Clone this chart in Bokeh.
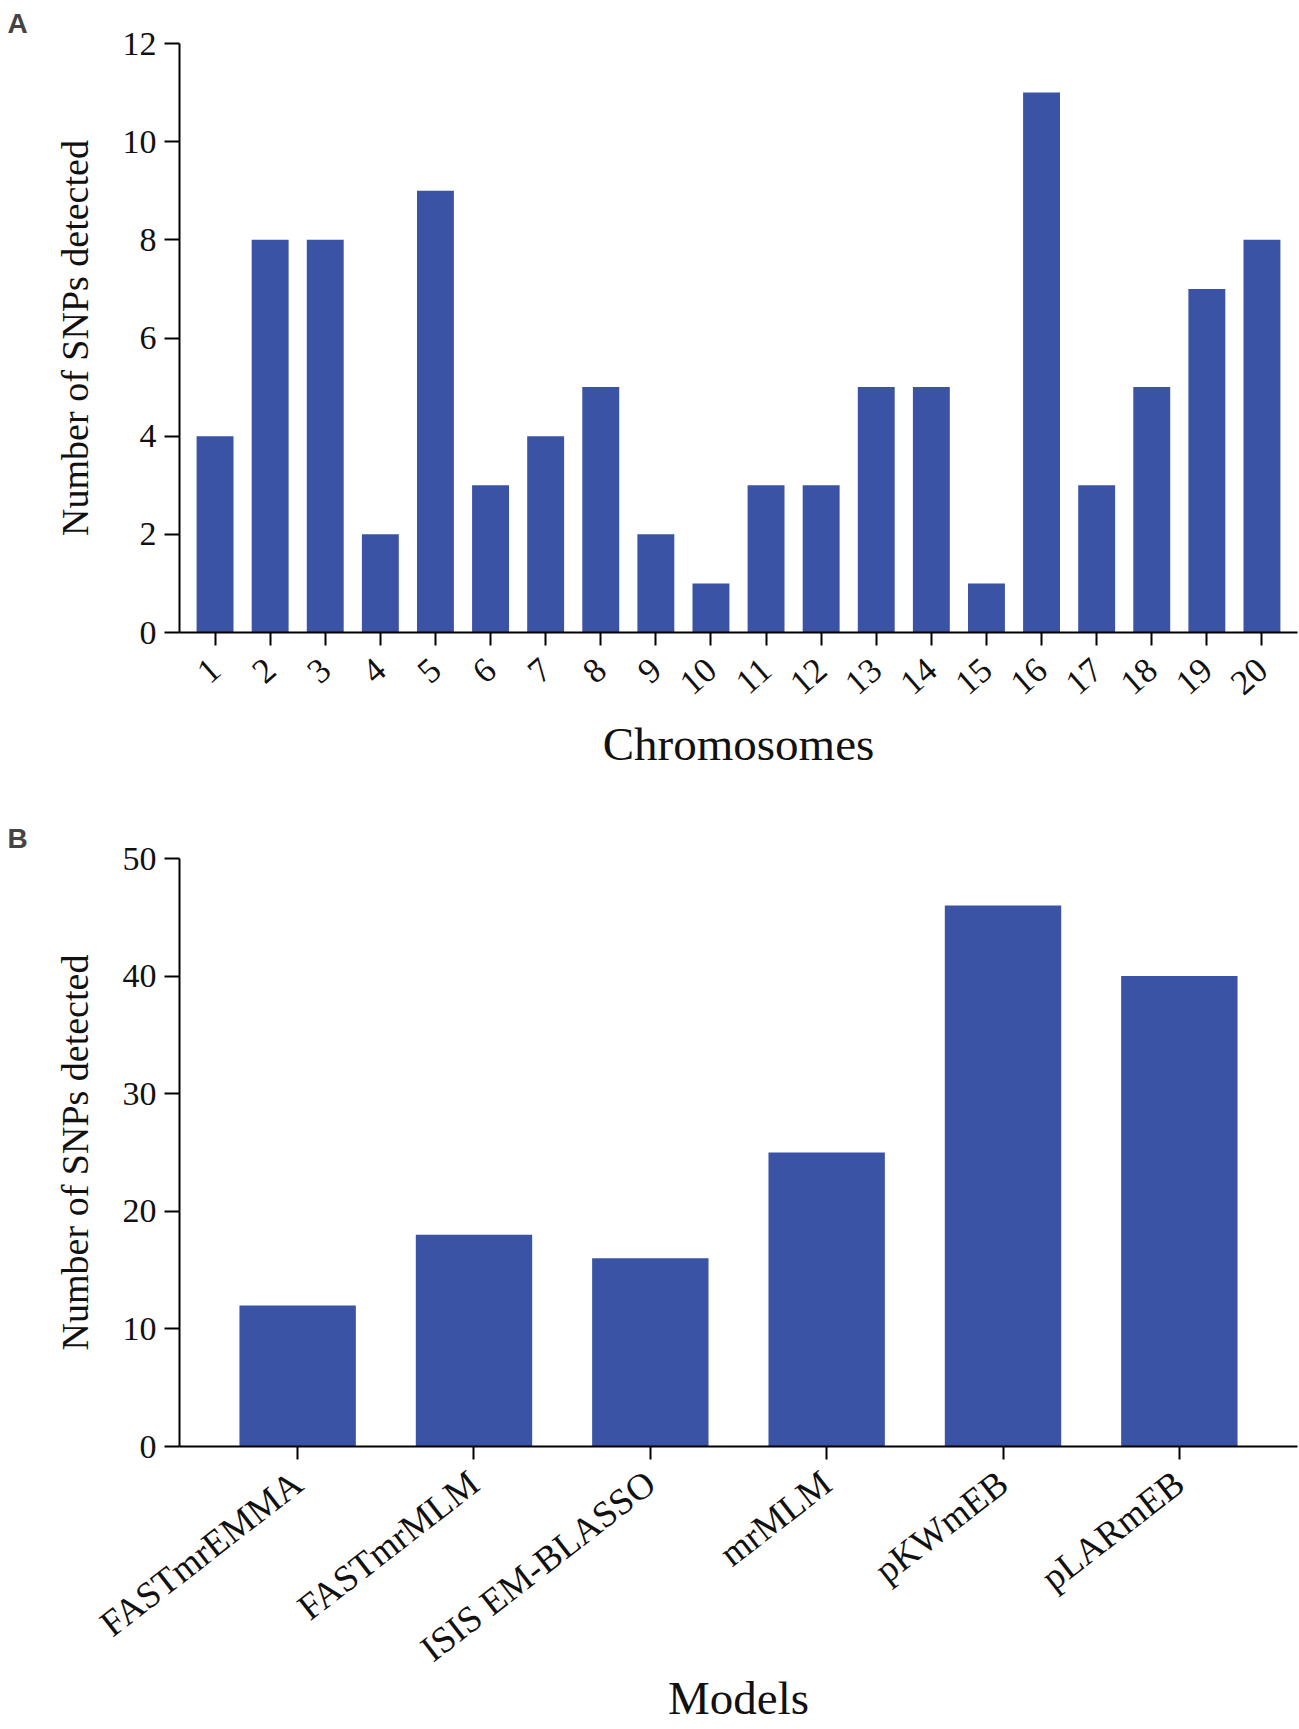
from bokeh.plotting import figure
from bokeh.models import Range1d, FactorRange, FixedTicker, ColumnDataSource
from bokeh.layouts import column
from bokeh.embed import file_html
from bokeh.resources import INLINE

# ---- data ----
chromosomes = [str(i) for i in range(1, 21)]
snps_per_chromosome = [4, 8, 8, 2, 9, 3, 4, 5, 2, 1, 3, 3, 5, 5, 1, 11, 3, 5, 7, 8]

models = ["FASTmrEMMA", "FASTmrMLM", "ISIS EM-BLASSO", "mrMLM", "pKWmEB", "pLARmEB"]
snps_per_model = [12, 18, 16, 25, 46, 40]

y_ticks_a = [0, 2, 4, 6, 8, 10, 12]
y_ticks_b = [0, 10, 20, 30, 40, 50]

BAR = "#3A53A4"
SERIF = "Liberation Serif"
LEFT = 179


def style(p, letter, xlabel, ticks, xfont, angle):
    p.title.text = letter
    p.title.text_font = "Liberation Sans"
    p.title.text_font_style = "bold"
    p.title.text_font_size = "28px"
    p.title.align = "left"
    p.title.offset = -(LEFT - 7)
    p.outline_line_color = None
    p.xgrid.grid_line_color = None
    p.ygrid.grid_line_color = None
    p.background_fill_color = "white"
    p.border_fill_color = "white"

    for ax in (p.xaxis[0], p.yaxis[0]):
        ax.axis_line_color = "black"
        ax.axis_line_width = 2
        ax.major_tick_line_color = "black"
        ax.major_tick_line_width = 2
        ax.major_tick_in = 0
        ax.minor_tick_line_color = None
        ax.major_label_text_font = SERIF
        ax.major_label_text_color = "#111111"
        ax.axis_label_text_font = SERIF
        ax.axis_label_text_font_style = "normal"
        ax.axis_label_text_color = "#111111"

    ya = p.yaxis[0]
    ya.ticker = FixedTicker(ticks=ticks)
    ya.major_tick_out = 15
    ya.major_label_standoff = 8
    ya.major_label_text_font_size = "34px"
    ya.axis_label = "Number of SNPs detected"
    ya.axis_label_text_font_size = "38px"
    ya.axis_label_standoff = 24

    xa = p.xaxis[0]
    xa.major_tick_out = 13
    xa.major_label_standoff = 19
    xa.major_label_orientation = angle
    xa.major_label_text_font_size = xfont
    xa.axis_label = xlabel
    xa.axis_label_text_font_size = "47px"


# ---- panel A ----
src_a = ColumnDataSource(dict(x=chromosomes, y=snps_per_chromosome))
pa = figure(width=1298, height=800, output_backend="svg", toolbar_location=None,
            x_range=FactorRange(*chromosomes, range_padding=0.145, range_padding_units="absolute"),
            y_range=Range1d(0, 12),
            min_border_left=LEFT, min_border_right=1, min_border_top=42, min_border_bottom=168)
pa.vbar(x="x", top="y", width=0.67, source=src_a, fill_color=BAR, line_color=None)
style(pa, "A", "Chromosomes", y_ticks_a, "35px", 0.72)
pa.xaxis[0].axis_label_standoff = 9

# ---- panel B ----
src_b = ColumnDataSource(dict(x=models, y=snps_per_model))
pb = figure(width=1298, height=928, output_backend="svg", toolbar_location=None,
            x_range=FactorRange(*models, range_padding=0.17, range_padding_units="absolute"),
            y_range=Range1d(0, 50),
            min_border_left=LEFT, min_border_right=1, min_border_top=58, min_border_bottom=282)
pb.vbar(x="x", top="y", width=0.66, source=src_b, fill_color=BAR, line_color=None)
style(pb, "B", "Models", y_ticks_b, "37px", 0.66)
pb.xaxis[0].axis_label_standoff = -16

layout = column(pa, pb, spacing=0)
open("out.html", "w").write(file_html(layout, INLINE))
